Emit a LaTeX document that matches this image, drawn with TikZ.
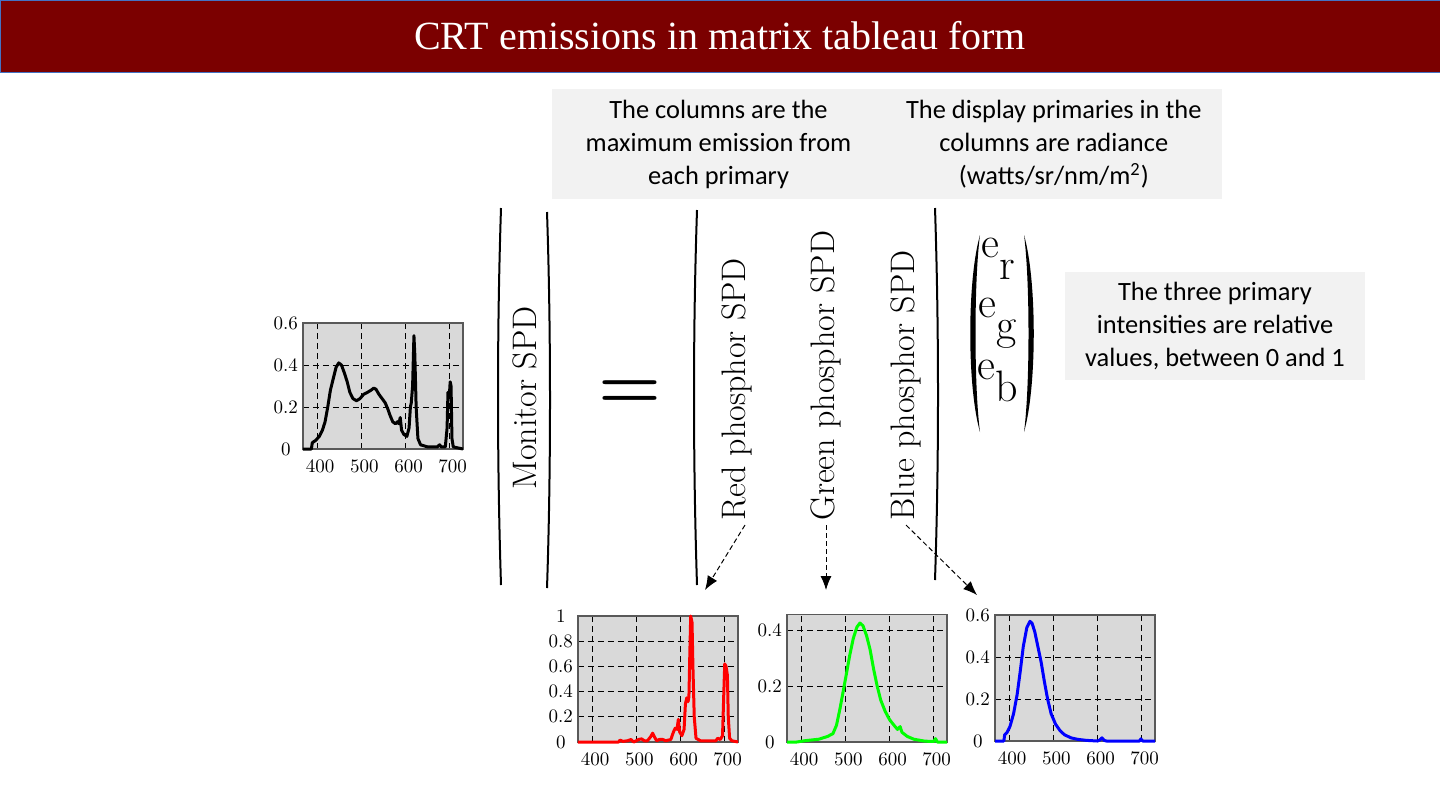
\documentclass[tikz,border=0pt]{standalone}
\usepackage{fontspec}
\usepackage{tikz}
\usetikzlibrary{arrows.meta,positioning}
\newfontfamily\notefont{Carlito}
\newfontfamily\headfont{Liberation Serif}
\definecolor{banner}{HTML}{7B0000}
\definecolor{bannerline}{HTML}{4472C4}
\definecolor{notegray}{HTML}{F2F2F2}
\definecolor{plotbg}{HTML}{D9D9D9}

% axes box of one SPD plot: top value, y grid values, y tick labels
\newcommand{\spdframe}[3]{%
  \fill[plotbg] (368,0) rectangle (730,#1);
  \foreach \gx in {400,500,600,700} \draw[gridln] (\gx,0) -- (\gx,#1);
  \foreach \gy in {#2} \draw[gridln] (368,\gy) -- (730,\gy);
  \draw[framebox] (368,0) rectangle (730,#1);
  \foreach \gx in {400,500,600,700} \node[ticklbl] at (\gx,0) [xshift=1.5pt,yshift=-8.5pt] {\gx};
  \foreach \gy/\gt in {#3} \node[ticklbl] at (329,\gy) {\gt};
}

\begin{document}
\begin{tikzpicture}[
 x=0.5pt, y=-0.5pt,
 titlebar/.style={fill=banner,draw=bannerline,line width=0.5pt,minimum width=720pt,minimum height=36pt,inner sep=0pt,text=white,font=\headfont\fontsize{20}{22}\selectfont},
 note/.style={fill=notegray,align=center,inner sep=0pt,minimum height=55pt,font=\notefont\fontsize{13.2}{16.5}\selectfont},
 vlabel/.style={rotate=90,anchor=west,inner sep=2pt,font=\fontsize{17}{17}\selectfont},
 ticklbl/.style={inner sep=0pt,font=\fontsize{9.5}{9.5}\selectfont},
 gridln/.style={black,line width=0.5pt,dash pattern=on 3pt off 2pt},
 framebox/.style={draw=black!65,line width=0.6pt},
 spd/.style={line width=1.5pt,line join=round},
 bracket/.style={line width=1pt},
 ptr/.style={line width=0.5pt,dash pattern=on 2.5pt off 1.5pt,-{Latex[length=7pt,width=5.5pt]}},
 bigsign/.style={inner sep=0pt,font=\fontsize{36}{36}\selectfont\bfseries},
 entry/.style={inner sep=0pt,font=\fontsize{22}{22}\selectfont},
]
\useasboundingbox (0,0) rectangle (1440,810);
\fill[white] (0,0) rectangle (1440,810);

\node[titlebar] (title) at (720,36) {CRT emissions in matrix tableau form};

% notes
\node[note,minimum width=167pt] (colnote) at (718.5,144) {The columns are the\\maximum emission from\\each primary};
\node[note,minimum width=168.5pt,right=-0.5pt of colnote] (radnote) {The display primaries in the\\columns are radiance\\(watts/sr/nm/m\textsuperscript{2})};
\node[note,minimum width=150pt,minimum height=54pt] (intnote) at (1215,326) {The three primary\\intensities are relative\\values, between 0 and 1};

% the matrix tableau
\draw[bracket] (501,208) .. controls (497,330) and (497,460) .. (501,585);
\draw[bracket] (547,212) .. controls (551,330) and (551,470) .. (547,588);
\draw[bracket] (697,210) .. controls (693,330) and (693,460) .. (697,585);
\draw[bracket] (935,208) .. controls (939,330) and (939,460) .. (935,580);
\node[vlabel] (monlbl) at (525,494) {Monitor SPD};
\node[bigsign] (eqsign) at (630,395) {=};
\node[vlabel] (redlbl) at (737,525) {Red phosphor SPD};
\node[vlabel] (greenlbl) at (826,525) {Green phosphor SPD};
\node[vlabel] (bluelbl) at (906,525) {Blue phosphor SPD};

% intensity vector
\fill (980,235) .. controls (967,280) and (967,387) .. (980,432) .. controls (974,387) and (974,280) .. (980,235);
\fill (1024,235) .. controls (1037,280) and (1037,387) .. (1024,432) .. controls (1030,387) and (1030,280) .. (1024,235);
\node[entry] (er) at (998,259) {e\raisebox{-0.5em}{r}};
\node[entry] (eg) at (998,323) {e\raisebox{-0.5em}{g}};
\node[entry] (eb) at (998,381) {e\raisebox{-0.5em}{b}};

% monitor SPD
\begin{scope}[shift={(303,449)}]
\begin{scope}[x=0.221pt,y=105pt,xshift=-81.33pt]
\spdframe{0.6}{0.2,0.4}{0/0,0.2/0.2,0.4/0.4,0.6/0.6}
\draw[spd,black] plot coordinates {(368,0) (387,0) (389,0.03) (396,0.04) (405,0.06) (412,0.09) (418,0.13) (424,0.2) (430,0.28) (437,0.34) (443,0.39) (449,0.41) (455,0.4) (462,0.36) (468,0.32) (474,0.27) (481,0.24) (489,0.23) (497,0.24) (505,0.26) (514,0.27) (522,0.28) (528,0.29) (533,0.285) (540,0.26) (547,0.24) (554,0.22) (560,0.19) (565,0.16) (571,0.13) (577,0.12) (582,0.13) (585,0.12) (588,0.15) (591,0.09) (596,0.07) (603,0.06) (608,0.1) (611,0.2) (613,0.22) (616,0.3) (619,0.54) (621,0.45) (624,0.2) (628,0.05) (634,0.02) (650,0.01) (672,0.01) (677,0.02) (681,0.01) (690,0.01) (694,0.1) (696,0.27) (699,0.25) (701,0.32) (703,0.3) (705,0.05) (708,0.01) (730,0)};
\end{scope}
\end{scope}

% red phosphor
\begin{scope}[shift={(578,742)}]
\begin{scope}[x=0.221pt,y=63pt,xshift=-81.33pt]
\spdframe{1}{0.2,0.4,0.6,0.8}{0/0,0.2/0.2,0.4/0.4,0.6/0.6,0.8/0.8,1/1}
\draw[spd,red] plot coordinates {(368,0) (460,0) (463,0.015) (470,0.005) (480,0.01) (488,0.02) (494,0.0) (500,0.01) (505,0.02) (512,0.025) (518,0.01) (525,0.01) (532,0.04) (537,0.07) (541,0.04) (546,0.01) (552,0.02) (560,0.02) (566,0.01) (578,0.02) (584,0.08) (588,0.11) (592,0.1) (595,0.18) (598,0.08) (603,0.05) (608,0.1) (611,0.3) (614,0.35) (617,0.32) (619,0.36) (621,0.7) (623,1.0) (626,0.95) (628,0.6) (631,0.2) (635,0.03) (645,0.01) (680,0.01) (684,0.03) (690,0.02) (695,0.05) (698,0.4) (700,0.62) (703,0.6) (706,0.53) (708,0.2) (711,0.03) (716,0.01) (730,0)};
\end{scope}
\end{scope}

% green phosphor
\begin{scope}[shift={(787,742)}]
\begin{scope}[x=0.221pt,y=140pt,xshift=-81.33pt]
\spdframe{0.454}{0.2,0.4}{0/0,0.2/0.2,0.4/0.4}
\draw[spd,green] plot coordinates {(368,0) (390,0) (410,0.005) (440,0.01) (460,0.02) (472,0.03) (480,0.06) (488,0.12) (495,0.18) (502,0.24) (510,0.31) (518,0.37) (526,0.41) (533,0.425) (540,0.415) (548,0.38) (556,0.33) (564,0.26) (572,0.2) (580,0.15) (590,0.11) (600,0.08) (610,0.06) (618,0.045) (624,0.055) (628,0.035) (640,0.02) (655,0.01) (680,0.003) (700,0.002) (704,0.012) (708,0) (730,0)};
\end{scope}
\end{scope}

% blue phosphor
\begin{scope}[shift={(995,741)}]
\begin{scope}[x=0.221pt,y=105pt,xshift=-81.33pt]
\spdframe{0.6}{0.2,0.4}{0/0,0.2/0.2,0.4/0.4,0.6/0.6}
\draw[spd,blue] plot coordinates {(368,0) (388,0) (390,0.03) (395,0.04) (402,0.07) (410,0.13) (418,0.22) (425,0.33) (432,0.45) (440,0.54) (447,0.57) (452,0.56) (458,0.52) (465,0.45) (472,0.38) (480,0.28) (487,0.2) (495,0.13) (505,0.08) (515,0.05) (525,0.03) (540,0.015) (555,0.008) (575,0.003) (600,0) (605,0.005) (610,0.015) (615,0.003) (620,0) (695,0) (698,0.01) (702,0) (730,0)};
\end{scope}
\end{scope}

% pointers from the columns to their spectra
\coordinate (redtip) at (705,590);
\coordinate (greentip) at (826,590);
\coordinate (bluetip) at (977,595);
\draw[ptr] ([xshift=4pt]redlbl.west) -- (redtip);
\draw[ptr] (greenlbl.west) -- (greentip);
\draw[ptr] (bluelbl.west) -- (bluetip);
\end{tikzpicture}
\end{document}
